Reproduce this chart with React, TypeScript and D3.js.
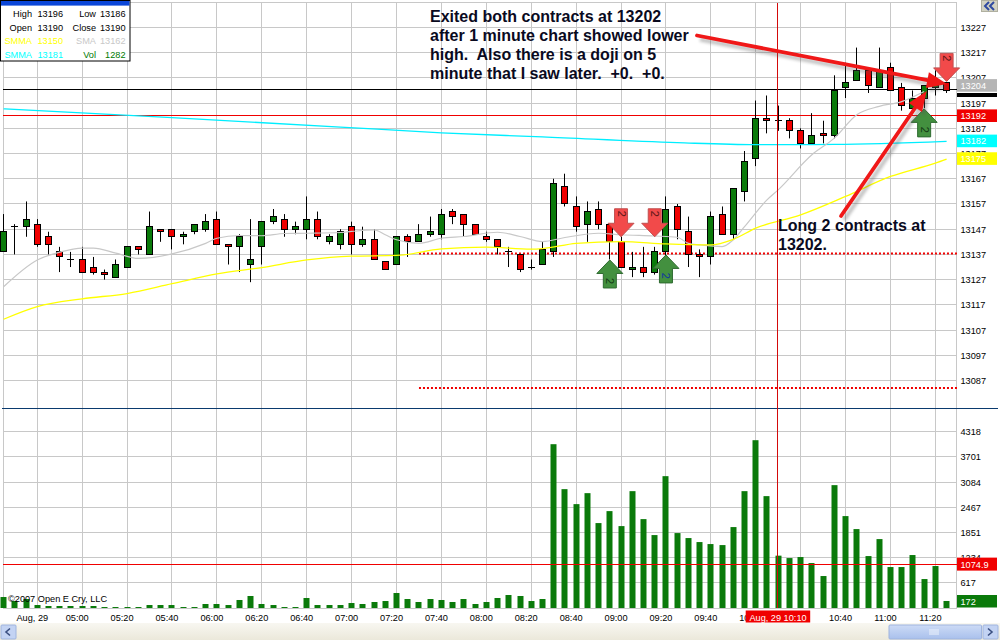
import React from "react";
import * as d3 from "d3";

// --- 5-minute candles, bar 0 = 04:25 -----------------------------------
const opens = [13138,13148,13148,13149,13144,13138,13135,13135,13132,13130,13128,13132,13140,13137,13147,13147,13144,13146,13147,13151,13141,13140,13133,13140,13150,13151,13147,13147,13151,13142,13141,13148,13141,13143,13134,13133,13144,13142,13145,13145,13154,13153,13149,13144,13143,13138,13137,13132,13133,13138,13164,13156,13149,13155,13149,13142,13131,13132,13130,13138,13156,13146,13137,13136,13153,13145,13162,13175,13191,13190,13190,13186,13181,13185,13184,13203,13206,13210,13203,13211,13203,13195,13199,13203,13205];
const highs = [13153,13149,13158,13151,13146,13140,13138,13140,13136,13131,13135,13140,13140,13154,13147,13147,13146,13149,13153,13154,13141,13145,13151,13150,13155,13153,13150,13160,13154,13145,13147,13150,13148,13147,13134,13144,13145,13149,13152,13155,13155,13153,13149,13146,13143,13140,13137,13135,13142,13167,13169,13160,13158,13158,13149,13144,13138,13140,13140,13160,13157,13152,13139,13154,13156,13163,13178,13198,13200,13196,13191,13187,13193,13190,13208,13213,13219,13210,13219,13213,13205,13202,13204,13210,13205];
const lows = [13138,13137,13144,13140,13137,13130,13132,13130,13129,13127,13128,13132,13137,13137,13142,13139,13141,13145,13146,13141,13133,13130,13126,13133,13149,13144,13145,13143,13143,13141,13139,13137,13140,13135,13131,13133,13136,13142,13144,13143,13149,13144,13145,13142,13137,13132,13130,13131,13133,13136,13156,13146,13142,13147,13135,13132,13128,13128,13129,13136,13143,13132,13128,13133,13145,13143,13158,13172,13185,13186,13183,13179,13181,13181,13183,13199,13206,13201,13203,13202,13194,13195,13195,13200,13201];
const closes = [13146,13148,13151,13141,13141,13136,13135,13130,13130,13129,13133,13140,13139,13148,13146,13144,13145,13149,13150,13141,13140,13144,13135,13150,13152,13147,13148,13151,13144,13144,13146,13141,13143,13135,13131,13144,13142,13145,13146,13153,13152,13149,13145,13143,13140,13138,13131,13132,13139,13165,13157,13148,13154,13149,13142,13132,13132,13130,13138,13155,13147,13137,13136,13152,13145,13163,13174,13191,13190,13190,13186,13181,13184,13184,13202,13205,13210,13204,13210,13202,13196,13199,13204,13204,13202];
const volumes = [269,171,220,73,49,49,49,49,49,24,24,24,24,73,73,73,24,24,98,98,73,196,294,98,73,24,24,245,73,73,73,122,98,147,171,367,220,147,220,196,147,220,98,147,245,318,294,171,220,4012,2911,2544,2813,2080,2373,2006,2862,2177,1786,3229,1835,1713,1615,1566,1541,1982,2862,4110,2740,1282,1223,1248,1101,783,3009,2251,1933,1272,1688,1003,1003,1297,709,1028,172];

// --- Moving averages: bar index + value ---------------------------------
const yellowBars = [0,3,7,11,15,19,23,27,31,35,39,43,47,48,51,55,59,63,65,67,71,75,79,83,84];
const yellowValues = [13111.3,13116.3,13119.4,13121.5,13125.4,13129.3,13131.8,13134.8,13136.3,13136.6,13139.2,13139.9,13139.1,13139.3,13141.4,13142.1,13141.2,13140.8,13143,13147.4,13152.7,13160,13167.9,13173.2,13174.8];
const cyanBars = [0,15,30,39,48,60,67,74,84];
const cyanValues = [13194.7,13191.2,13187.5,13185.2,13183.6,13181.3,13180.5,13180.6,13181.8];
const greyBars = [0,3,5,7,8,10,12,15,18,19,21,23,25,27,30,31,33,34,35,37,39,41,44,46,48,50,53,55,58,60,61,62,64,65,66,68,69,72,74,76,78,80,82];
const greyValues = [13124.2,13134.8,13137.9,13139.5,13139.5,13137.5,13135.4,13137.2,13141.4,13143.4,13144.5,13144.4,13145.3,13145.4,13145.7,13146.1,13146.7,13144.8,13142.8,13141.4,13143.4,13144.1,13145.8,13144.1,13142.1,13143.7,13145.4,13144.8,13144.3,13143.8,13141.4,13140.8,13140.1,13142.8,13148,13158.6,13162.6,13176.5,13183.1,13192.4,13195.7,13197.6,13201.6];

// --- Axes ---------------------------------------------------------------
const priceTicks = [13227,13217,13207,13197,13187,13177,13167,13157,13147,13137,13127,13117,13107,13097,13087];
const volumeTicks = [4318,3701,3084,2467,1851,1234,617];
const timeBars = [3,7,11,15,19,23,27,31,35,39,43,47,51,55,59,63,67,71,75,79,83];
const timeLabels = ["Aug, 29","05:00","05:20","05:40","06:00","06:20","06:40","07:00","07:20","07:40","08:00","08:20","08:40","09:00","09:20","09:40","10:00","","10:40","11:00","11:20"];

// --- Levels and trades --------------------------------------------------
const exitLevel = 13202.2;
const stopLevel = 13192;
const dottedLevels = [13137.4, 13084];
const dottedFromBar = 37;
const crossBar = 69;
const volumeAverage = 1074.9;
const buyBars = [54, 59, 82];
const buyTipPrices = [13134.8, 13136.8, 13194.7];
const sellBars = [55, 58, 84];
const sellTipPrices = [13144, 13144, 13205.6];
const priceBoxes = [
  { label: "13204", value: 13204, fill: "#b5b5b5" },
  { label: "13192", value: 13192, fill: "#f00000" },
  { label: "13182", value: 13182, fill: "#00ffff" },
  { label: "13175", value: 13175, fill: "#ffff00" },
];
const legendRows = [
  [["High", "13196", "#000"], ["Low", "13186", "#000"]],
  [["Open", "13190", "#000"], ["Close", "13190", "#000"]],
  [["SMMA", "13150", "#ffff00"], ["SMA", "13162", "#c8c8c8"]],
  [["SMMA", "13181", "#00ffff"], ["Vol", "1282", "#007a00"]],
];
const noteExit = ["Exited both contracts at 13202", "after 1 minute chart showed lower", "high.  Also there is a doji on 5", "minute that I saw later.  +0.  +0."];
const noteLong = ["Long 2 contracts at", "13202."];

const FONT = "'Liberation Sans', Arial, sans-serif";
const GRID = "#c8c8c8";
const UP = "#0a7a0a";
const DOWN = "#f00000";
const snap = (n: number) => Math.floor(n) + 0.5;

function blockArrowPath(x: number, tip: number, dir: number) {
  // dir = 1 : tip at the top (buy), dir = -1 : tip at the bottom (sell)
  const head = 13.5, headW = 13, shaftW = 6.5, len = 28;
  return `M${x},${tip} L${x + headW},${tip + dir * head} L${x + shaftW},${tip + dir * head} L${x + shaftW},${tip + dir * len} L${x - shaftW},${tip + dir * len} L${x - shaftW},${tip + dir * head} L${x - headW},${tip + dir * head} Z`;
}

function LineArrow({ x1, y1, x2, y2 }: { x1: number; y1: number; x2: number; y2: number }) {
  const a = Math.atan2(y2 - y1, x2 - x1);
  const L = 20, W = 8;
  const bx = x2 - L * Math.cos(a), by = y2 - L * Math.sin(a);
  const nx = -Math.sin(a), ny = Math.cos(a);
  const head = `M${x2},${y2} L${bx + nx * W},${by + ny * W} L${bx - nx * W},${by - ny * W} Z`;
  const shaft = `M${x1},${y1} L${bx},${by}`;
  return (
    <g>
      <g transform="translate(3,4)" opacity={0.35} filter="url(#blur)">
        <path d={shaft} stroke="#555" strokeWidth={4} fill="none" />
        <path d={head} fill="#555" />
      </g>
      <path d={shaft} stroke="#f01818" strokeWidth={3.8} fill="none" strokeLinecap="round" />
      <path d={head} fill="#f01818" />
    </g>
  );
}

export default function App() {
  const W = 1000, H = 640;
  const x = d3.scaleLinear().domain([0, 84]).range([3.6, 946.6]);
  const y = d3.scaleLinear().domain([13147, 13227]).range([229.2, 27.4]);
  const v = d3.scaleLinear().domain([0, 4318]).range([608, 431.7]);
  const plotL = 3, plotR = 957, top = 3, sep = 408, bottom = 608;
  const line = d3.line<[number, number]>().x((d) => x(d[0])).y((d) => y(d[1])).curve(d3.curveMonotoneX);
  const ma = (bars: number[], vals: number[]) => line(bars.map((b, i) => [b, vals[i]] as [number, number])) || "";
  const volGrid = [...volumeTicks, 0];
  const extraPriceGrid = 13236.7;
  const cross = snap(x(crossBar)) - 1;

  return (
    <svg width={W} height={H} viewBox={`0 0 ${W} ${H}`} style={{ position: "absolute", left: 0, top: 0, display: "block", background: "#fff" }} fontFamily={FONT}>
      <defs>
        <filter id="blur" x="-10%" y="-50%" width="120%" height="200%"><feGaussianBlur stdDeviation="1.6" /></filter>
        <linearGradient id="band" x1="0" x2="0" y1="0" y2="1"><stop offset="0" stopColor="#f8f7f1" /><stop offset="1" stopColor="#ebe8da" /></linearGradient>
        <linearGradient id="thumb" x1="0" x2="0" y1="0" y2="1"><stop offset="0" stopColor="#cddbf6" /><stop offset="1" stopColor="#a9c0ec" /></linearGradient>
      </defs>

      {/* grid */}
      <g stroke={GRID} strokeWidth={1}>
        {timeBars.map((b) => <line key={b} x1={snap(x(b))} x2={snap(x(b))} y1={top} y2={bottom} />)}
        <line x1={plotL + 0.5} x2={plotL + 0.5} y1={top} y2={bottom} />
        <line x1={plotR - 0.5} x2={plotR - 0.5} y1={top} y2={bottom} />
        {[extraPriceGrid, ...priceTicks].map((t) => <line key={t} x1={plotL} x2={plotR} y1={snap(y(t))} y2={snap(y(t))} />)}
        {volGrid.map((t) => <line key={t} x1={plotL} x2={plotR} y1={snap(v(t))} y2={snap(v(t))} />)}
      </g>

      {/* levels */}
      <line x1={plotL} x2={plotR} y1={snap(y(exitLevel))} y2={snap(y(exitLevel))} stroke="#000" />
      <line x1={plotL} x2={plotR} y1={snap(y(stopLevel))} y2={snap(y(stopLevel))} stroke="#f00000" />
      {dottedLevels.map((d) => (
        <line key={d} x1={x(dottedFromBar)} x2={plotR} y1={y(d)} y2={y(d)} stroke="#f00000" strokeWidth={2} strokeDasharray="2 2" />
      ))}

      {/* candles */}
      {opens.map((o, i) => {
        const c = closes[i];
        const cx = snap(x(i));
        const t = y(Math.max(o, c)), b = y(Math.min(o, c));
        const up = c >= o;
        return (
          <g key={i}>
            <line x1={cx} x2={cx} y1={y(highs[i])} y2={y(lows[i])} stroke="#000" />
            {o === c ? (
              <line x1={cx - 3.5} x2={cx + 3.5} y1={snap(t)} y2={snap(t)} stroke="#000" />
            ) : (
              <rect x={cx - 3} y={snap(t)} width={6} height={Math.max(1, snap(b) - snap(t))} fill={up ? UP : DOWN} stroke="#000" />
            )}
          </g>
        );
      })}

      {/* moving averages */}
      <path d={ma(cyanBars, cyanValues)} fill="none" stroke="#00eeff" strokeWidth={1.3} />
      <path d={ma(greyBars, greyValues)} fill="none" stroke="#c8c8c8" strokeWidth={1.2} />
      <path d={ma(yellowBars, yellowValues)} fill="none" stroke="#ffff00" strokeWidth={1.3} />

      {/* separator */}
      <line x1={2} x2={998} y1={sep + 0.5} y2={sep + 0.5} stroke="#0a3a6e" strokeWidth={1} />

      {/* volume */}
      {volumes.map((d, i) => (
        <rect key={i} x={Math.floor(x(i)) - 2.5} y={v(d)} width={6} height={v(0) - v(d)} fill={UP} />
      ))}
      <line x1={plotL} x2={plotR} y1={snap(v(volumeAverage))} y2={snap(v(volumeAverage))} stroke="#f00000" />

      {/* crosshair */}
      <line x1={cross} x2={cross} y1={top} y2={bottom} stroke="#d40a0a" />

      {/* trade markers */}
      {sellBars.map((b, i) => (
        <g key={b}>
          <path d={blockArrowPath(x(b), y(sellTipPrices[i]), -1)} fill="#f24a4a" stroke="#c05050" strokeWidth={1} />
          <text transform={`translate(${x(b)},${y(sellTipPrices[i]) - 23}) rotate(90)`} fontSize={11} textAnchor="middle" dy={3.5} fill="#5a1515">2</text>
        </g>
      ))}
      {buyBars.map((b, i) => (
        <g key={b}>
          <path d={blockArrowPath(x(b), y(buyTipPrices[i]), 1)} fill="#43903f" stroke="#2e6a30" strokeWidth={1} />
          <text transform={`translate(${x(b)},${y(buyTipPrices[i]) + 21}) rotate(90)`} fontSize={11} textAnchor="middle" dy={3.5} fill={b === 59 ? "#1038a0" : "#143a14"}>2</text>
        </g>
      ))}

      {/* annotation arrows */}
      <LineArrow x1={697} y1={35.5} x2={947} y2={84} />
      <LineArrow x1={841} y1={216} x2={926.7} y2={91} />

      {/* annotation text */}
      <g fontWeight="bold" fontSize={16} fill="#0a0a1e">
        {noteExit.map((t, i) => <text key={i} x={430} y={21.7 + i * 19.2} xmlSpace="preserve" style={{ whiteSpace: "pre" }}>{t}</text>)}
        {noteLong.map((t, i) => <text key={i} x={778} y={231 + i * 19}>{t}</text>)}
      </g>

      {/* price axis */}
      <g fontSize={9.2} fill="#000">
        {priceTicks.map((t) => <text key={t} x={960.5} y={y(t) + 3.5}>{t}</text>)}
      </g>
      <rect x={957} y={93} width={40} height={4} fill="#000" />
      {priceBoxes.map((b) => (
        <g key={b.label}>
          <rect x={957} y={y(b.value) - 6.3} width={40} height={12.6} fill={b.fill} />
          <text x={960.5} y={y(b.value) + 3.5} fontSize={9.2} fill="#fff">{b.label}</text>
        </g>
      ))}

      {/* volume axis */}
      <g fontSize={9.2} fill="#000">
        {volumeTicks.map((t) => <text key={t} x={960.5} y={v(t) + 3.5}>{t}</text>)}
      </g>
      <rect x={957} y={v(volumeAverage) - 6.5} width={40} height={13} fill="#f00000" />
      <text x={960.5} y={v(volumeAverage) + 3.5} fontSize={9.2} fill="#fff">{volumeAverage}</text>
      <rect x={957} y={595} width={40} height={12.5} fill={UP} />
      <text x={960.5} y={604.8} fontSize={9.2} fill="#fff">{volumes[volumes.length - 1]}</text>

      {/* time axis + band */}
      <rect x={0} y={623} width={W} height={17} fill="url(#band)" />
      <g fontSize={9.2} fill="#000" textAnchor="middle">
        {timeBars.map((b, i) => timeLabels[i] ? <text key={b} x={x(b) - 5} y={620.5}>{timeLabels[i]}</text> : null)}
      </g>
      <rect x={745.7} y={610.5} width={64.5} height={12} fill="#f00000" />
      <text x={778} y={620.5} fontSize={9.2} fill="#fff" textAnchor="middle">Aug, 29 10:10</text>
      <text x={8} y={602} fontSize={9.2} fill="#000">©2007 Open E Cry, LLC</text>

      {/* scroll controls */}
      <rect x={1} y={625} width={15} height={14} rx={1} fill="#c3d3f3" stroke="#9fb4de" />
      <path d="M10,628.5 L6,632 L10,635.5" fill="none" stroke="#3a4f80" strokeWidth={1.6} />
      <rect x={889} y={625} width={92.5} height={14} rx={1} fill="url(#thumb)" stroke="#9fb4de" />
      <g stroke="#eef3fc">{[0, 2, 4, 6, 8].map((k) => <line key={k} x1={930 + k} x2={930 + k} y1={629} y2={635} />)}</g>
      <rect x={983} y={625} width={15} height={14} rx={1} fill="#c3d3f3" stroke="#9fb4de" />
      <path d="M988,628.5 L992,632 L988,635.5" fill="none" stroke="#3a4f80" strokeWidth={1.6} />
      <rect x={981.5} y={0.5} width={16} height={11} fill="#d2d2c2" stroke="#b0b0a0" />
      <path d="M989,2 L985,6 L989,10 M994,2 L990,6 L994,10" fill="none" stroke="#2f4aa0" strokeWidth={2} />

      {/* legend */}
      <rect x={0.5} y={0.5} width={129.5} height={60.5} fill="#fff" stroke="#000" />
      <rect x={1} y={1} width={128.5} height={4.6} fill="#0a46d8" />
      {legendRows.map((r, i) => {
        const yy = [17, 31, 44, 58][i];
        return (
          <g key={i} fontSize={9.2}>
            <text x={32} y={yy} textAnchor="end" fill={r[0][2]}>{r[0][0]}</text>
            <text x={63} y={yy} textAnchor="end" fill={r[0][2]}>{r[0][1]}</text>
            <text x={96} y={yy} textAnchor="end" fill={r[1][2]}>{r[1][0]}</text>
            <text x={125.5} y={yy} textAnchor="end" fill={r[1][2]}>{r[1][1]}</text>
          </g>
        );
      })}
    </svg>
  );
}
